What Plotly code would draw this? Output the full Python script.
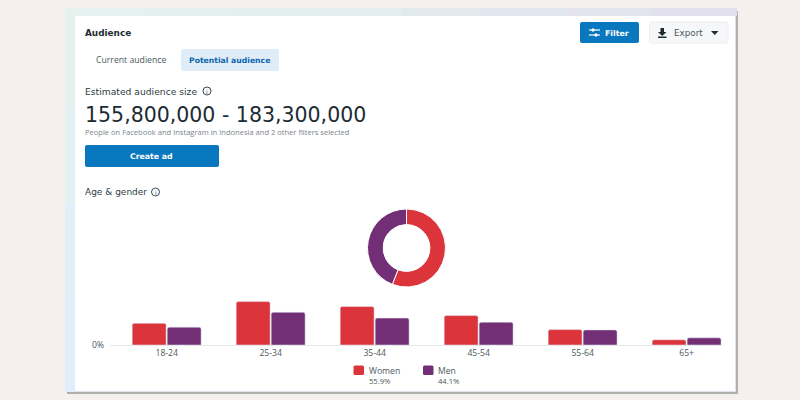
"""Audience panel: age & gender bars with a women/men donut."""
import plotly.graph_objects as go

AGE_GROUPS = ["18-24", "25-34", "35-44", "45-54", "55-64", "65+"]
WOMEN = [7.9, 15.8, 14.0, 10.7, 5.6, 1.9]
MEN = [6.5, 11.9, 9.8, 8.3, 5.5, 2.6]
SERIES_NAMES = ["Women", "Men"]
SERIES_SHARE = [55.9, 44.1]
Y_MAX = 18.2

RED = "#dc343b"
PURPLE = "#722f75"
BLUE = "#0a78be"
INK = "#1c2b33"
FONT = "DejaVu Sans"
FONT_SMALL = "Open Sans"

W, H = 800, 400


def px(x):
    return x / W


def py(y):
    return 1 - y / H


def rrect(x0, y0, x1, y1, fill, r=2, line=None):
    # rounded rectangle, given in pixels from the top left
    a, b, c, d = px(x0), py(y0), px(x1), py(y1)
    rx, ry = r / W, r / H
    path = (f"M {a+rx} {b} L {c-rx} {b} Q {c} {b} {c} {b-ry} L {c} {d+ry} Q {c} {d} {c-rx} {d} "
            f"L {a+rx} {d} Q {a} {d} {a} {d+ry} L {a} {b-ry} Q {a} {b} {a+rx} {b} Z")
    return dict(type="path", path=path, xref="paper", yref="paper", fillcolor=fill,
                line=dict(color=line or fill, width=1 if line else 0), layer="below")


def rect(x0, y0, x1, y1, fill):
    return dict(type="rect", xref="paper", yref="paper", x0=px(x0), x1=px(x1), y0=py(y0), y1=py(y1),
                fillcolor=fill, line=dict(width=0), layer="below")


def seg(x0, y0, x1, y1, color, width=1.2):
    return dict(type="line", xref="paper", yref="paper", x0=px(x0), x1=px(x1), y0=py(y0), y1=py(y1),
                line=dict(color=color, width=width), layer="below")


def dot(x, y, r, fill, line_color=None):
    return dict(type="circle", xref="paper", yref="paper", x0=px(x-r), x1=px(x+r), y0=py(y-r), y1=py(y+r),
                fillcolor=fill, line=dict(color=line_color or fill, width=1), layer="below")


def poly(points, fill):
    path = "M " + " L ".join(f"{px(x)} {py(y)}" for x, y in points) + " Z"
    return dict(type="path", path=path, xref="paper", yref="paper", fillcolor=fill,
                line=dict(width=0), layer="below")


def label(x, y, text, size, color=INK, bold=False, anchor="left", family=FONT):
    if bold:
        text = f"<b>{text}</b>"
    return dict(x=px(x), y=py(y), xref="paper", yref="paper", text=text, showarrow=False,
                xanchor=anchor, yanchor="middle", xshift=-2 if anchor == "left" else 0,
                font=dict(size=size, color=color, family=family))


# Panel behind the card
shapes = [
    rect(67, 11, 738, 394, "#b0b0b0"),
    rect(65, 8, 736, 392, "#e2e0ec"),
]
# the tinted border drifts from pale green to lavender along the top
top_tints = ["#e5f1ee", "#e4f0ee", "#e3eeee", "#e3ecee", "#e2e9ee", "#e2e6ee", "#e2e3ed", "#e1e0ec"]
for i, tint in enumerate(top_tints):
    shapes.append(rect(65 + i * 84, 8, 65 + (i + 1) * 84, 16, tint))
side_tints = ["#e5f1ee", "#e3f1f3", "#e1f0f7", "#dfeefb"]
for i, tint in enumerate(side_tints):
    shapes.append(rect(65, 16 + i * 94, 75, 16 + (i + 1) * 94, tint))
shapes.append(rect(75, 16, 735, 391, "#ffffff"))

# Buttons and tabs
shapes += [
    rrect(181, 49, 279, 71, "#e0ecf7"),
    rrect(85, 145, 219, 167, BLUE),
    rrect(580, 22, 639, 43, BLUE),
    rrect(649.5, 22, 728, 43, "#f6f7f9", line="#eceef1"),
]

# Filter icon
shapes += [
    seg(589, 30, 600, 30, "#ffffff"), seg(589, 35, 600, 35, "#ffffff"),
    dot(593, 30, 1.2, "#ffffff"), dot(596, 35, 1.2, "#ffffff"),
]
# Export icon and caret
shapes += [
    rect(660.5, 28, 664, 32, INK),
    poly([(658, 32), (666.5, 32), (662.2, 36)], INK),
    rect(658, 36.5, 666.5, 38, INK),
    poly([(711, 31), (718.5, 31), (714.8, 35)], INK),
]
# Info circles
shapes += [
    dot(207, 91, 4, "#ffffff", "#3d4a52"),
    dot(155.5, 192, 4, "#ffffff", "#3d4a52"),
]
# Legend swatches
shapes += [
    rrect(353.5, 365.5, 364, 375, RED, r=1.5),
    rrect(423, 365.5, 433.5, 375, PURPLE, r=1.5),
]

annotations = [
    label(85, 33, "Audience", 8.9, bold=True),
    label(95.5, 60, "Current audience", 8.7, color="#4b5860", family=FONT_SMALL),
    label(230, 60, "Potential audience", 7.7, color="#0a66ad", bold=True, anchor="center"),
    label(85, 91, "Estimated audience size", 9.2, color="#2f3b43"),
    label(207, 91, "i", 6, color="#3d4a52", anchor="center"),
    label(85, 115, "155,800,000 - 183,300,000", 20.5),
    label(85, 131.5, "People on Facebook and Instagram in Indonesia and 2 other filters selected", 7.55,
          color="#7b858c", family=FONT_SMALL),
    label(151.5, 156, "Create ad", 7.8, color="#ffffff", bold=True, anchor="center"),
    label(605, 33, "Filter", 7.8, color="#ffffff", bold=True),
    label(673.5, 33, "Export", 8.8, color="#4b5860"),
    label(85, 192, "Age &amp; gender", 9, color="#2f3b43"),
    label(155.5, 192, "i", 6, color="#3d4a52", anchor="center"),
]
for name, share, x in zip(SERIES_NAMES, SERIES_SHARE, [369, 438]):
    annotations.append(label(x, 370.5, name, 8.6, color="#4b5860", family=FONT_SMALL))
    annotations.append(label(x, 381, f"{share}%", 7.6, color="#4b5860", family=FONT_SMALL))

fig = go.Figure()
fig.add_trace(go.Bar(x=AGE_GROUPS, y=WOMEN, name=SERIES_NAMES[0], marker=dict(color=RED, cornerradius=2)))
fig.add_trace(go.Bar(x=AGE_GROUPS, y=MEN, name=SERIES_NAMES[1], marker=dict(color=PURPLE, cornerradius=2)))
fig.add_trace(go.Pie(labels=SERIES_NAMES, values=SERIES_SHARE, hole=0.6, sort=False, direction="clockwise",
                     rotation=0, textinfo="none", marker=dict(colors=[RED, PURPLE], line=dict(color="#ffffff", width=1)),
                     domain=dict(x=[px(365), px(448)], y=[py(287), py(209)])))

fig.update_layout(
    width=W, height=H, margin=dict(l=0, r=0, t=0, b=0, autoexpand=False),
    paper_bgcolor="#f5f0ee", plot_bgcolor="rgba(0,0,0,0)",
    barmode="group", bargap=0.327, bargroupgap=0.03, showlegend=False,
    shapes=shapes, annotations=annotations,
    font=dict(family=FONT_SMALL),
    xaxis=dict(domain=[px(110), px(723)], range=[-0.545, 5.35], type="category", showline=True, linecolor="#e8e8ea",
               linewidth=1, showgrid=False, ticks="", ticklabelstandoff=0, automargin=False,
               tickfont=dict(size=8.6, color="#4b5860", family=FONT_SMALL)),
    yaxis=dict(domain=[py(345), py(295)], range=[0, Y_MAX], tickvals=[0], ticktext=["0%"], showgrid=False,
               zeroline=False, ticks="", ticklabelstandoff=5, automargin=False,
               tickfont=dict(size=8.6, color="#4b5860", family=FONT_SMALL)),
)

# the page's default body margin would push the chart off the 800x400 window
fig.write_html("out.html", config={"displayModeBar": False}, post_script="document.body.style.margin = '0';")
